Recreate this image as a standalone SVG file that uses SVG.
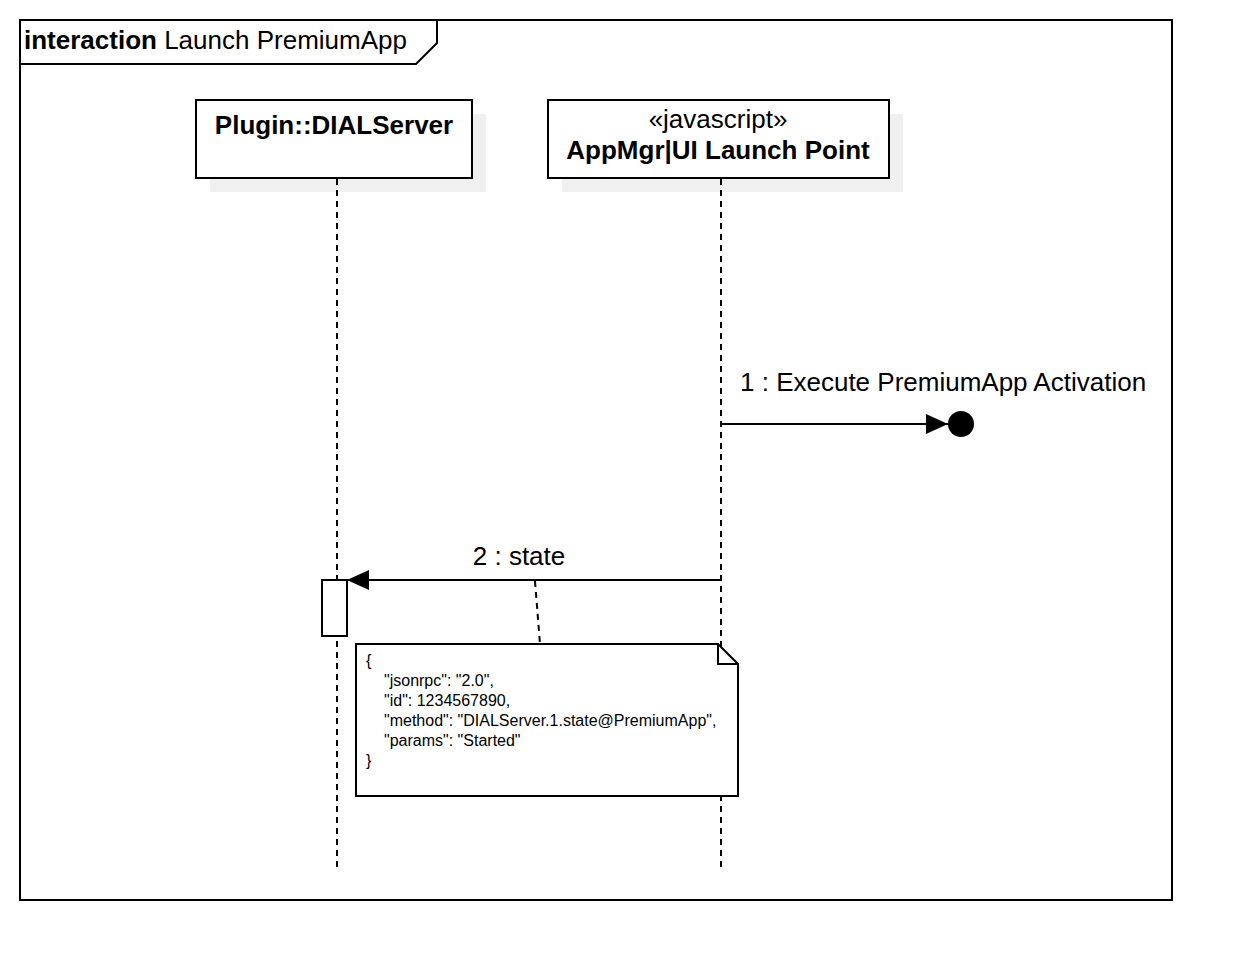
<svg xmlns="http://www.w3.org/2000/svg" width="1252" height="980" viewBox="0 0 1252 980">
<style>
text{font-family:"Liberation Sans",Arial,sans-serif;fill:#000}
.b{font-weight:bold}
.frame{fill:none;stroke:#000;stroke-width:2}
.box{fill:#fff;stroke:#000;stroke-width:2}
.shadow{fill:#f0f0f0;stroke:none}
.life{stroke:#000;stroke-width:2;stroke-dasharray:6 5;fill:none}
.msg{stroke:#000;stroke-width:2;fill:none}
.link{stroke:#000;stroke-width:2;stroke-dasharray:6 5;fill:none}
.note{font-size:16px}
</style>
<defs>
<marker id="arr" markerWidth="22" markerHeight="20" refX="22" refY="10" orient="auto" markerUnits="userSpaceOnUse">
<path d="M0,0 L22,10 L0,20 Z" fill="#000"/>
</marker>
</defs>
<rect x="0" y="0" width="1252" height="980" fill="#fff"/>
<g id="frame">
<rect class="frame" x="20" y="20" width="1152" height="880"/>
<path class="frame" d="M20,64 L416,64 L437,43 L437,20"/>
<text x="24" y="49" font-size="26"><tspan class="b">interaction</tspan> Launch PremiumApp</text>
</g>
<g id="dialserver">
<rect class="shadow" x="210" y="114" width="276" height="78"/>
<rect class="box" x="196" y="100" width="276" height="78"/>
<text class="b" x="334" y="134" font-size="26" text-anchor="middle">Plugin::DIALServer</text>
<line class="life" x1="337" y1="179" x2="337" y2="868"/>
<rect class="box" x="322" y="580" width="25" height="56"/>
</g>
<g id="launchpoint">
<rect class="shadow" x="562" y="114" width="341" height="78"/>
<rect class="box" x="548" y="100" width="341" height="78"/>
<text x="718" y="128" font-size="26" text-anchor="middle">«javascript»</text>
<text class="b" x="718" y="159" font-size="26" text-anchor="middle">AppMgr|UI Launch Point</text>
<line class="life" x1="721" y1="179" x2="721" y2="868"/>
</g>
<g id="connectors">
<line class="msg" x1="721" y1="424" x2="948" y2="424" marker-end="url(#arr)"/>
<circle cx="961" cy="424" r="13" fill="#000"/>
<text x="740" y="391" font-size="26">1 : Execute PremiumApp Activation</text>
<line class="msg" x1="721" y1="580" x2="347" y2="580" marker-end="url(#arr)"/>
<text x="519" y="565" font-size="26" text-anchor="middle">2 : state</text>
<line class="link" x1="535" y1="581" x2="540" y2="644"/>
</g>
<g id="note">
<path class="box" d="M356,644 L718,644 L738,664 L738,796 L356,796 Z"/>
<path class="frame" d="M718,644 L718,664 L738,664"/>
<text class="note" x="366" y="666">{</text>
<text class="note" x="384" y="686">"jsonrpc": "2.0",</text>
<text class="note" x="384" y="706">"id": 1234567890,</text>
<text class="note" x="384" y="726">"method": "DIALServer.1.state@PremiumApp",</text>
<text class="note" x="384" y="746">"params": "Started"</text>
<text class="note" x="366" y="766">}</text>
</g>
</svg>
